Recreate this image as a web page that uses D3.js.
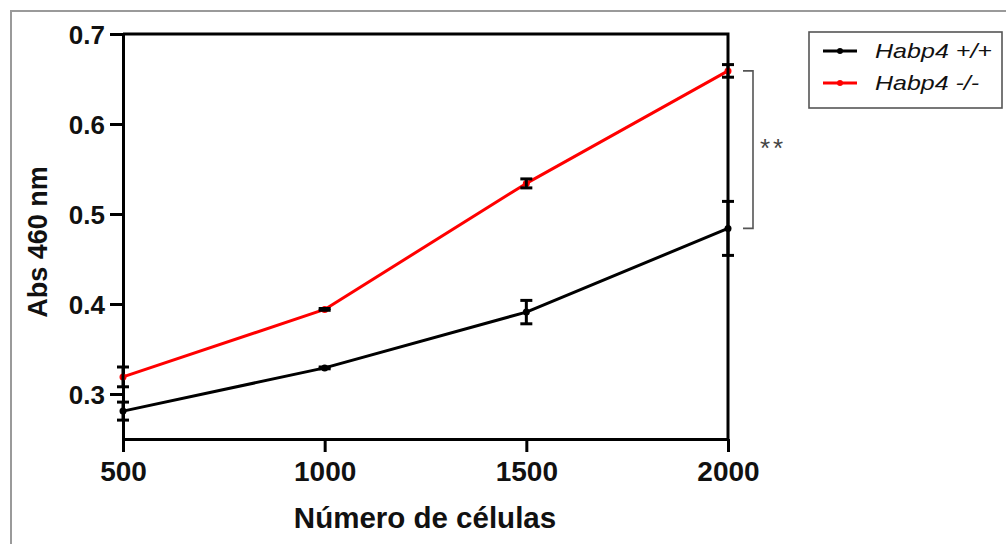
<!DOCTYPE html>
<html>
<head>
<meta charset="utf-8">
<script src="https://cdn.jsdelivr.net/npm/d3@7"></script>
<style>
  body { margin: 0; background: #fff; }
  svg { display: block; font-family: "Liberation Sans", Arial, sans-serif; }
</style>
</head>
<body>
<svg id="chart" width="1006" height="544"></svg>
<script>
"use strict";

// Values
var cells = [500, 1000, 1500, 2000];
var wildMean = [0.281, 0.329, 0.391, 0.484];
var wildErr = [0.010, 0.001, 0.013, 0.030];
var koMean = [0.319, 0.394, 0.534, 0.659];
var koErr = [0.011, 0.001, 0.005, 0.007];
var yTicks = [0.3, 0.4, 0.5, 0.6, 0.7];
var seriesNames = ["Habp4 +/+", "Habp4 -/-"];
var seriesColors = ["#000000", "#ff0000"];

var svg = d3.select("#chart");

// outer grey frame of the original figure
svg.append("path")
    .attr("d", "M11,544V11H1006")
    .attr("fill", "none")
    .attr("stroke", "#9a9a9a")
    .attr("stroke-width", 2);

var x = d3.scaleLinear().domain([500, 2000]).range([123, 728]);
var y = d3.scaleLinear().domain([0.25, 0.7]).range([439, 34]);

function makeSeries(means, errs) {
  return cells.map(function(c, i) {
    return {x: c, y: means[i], e: errs[i]};
  });
}
var series = [makeSeries(wildMean, wildErr), makeSeries(koMean, koErr)];

// top and right frame lines
svg.append("path")
    .attr("d", "M" + x(500) + "," + y(0.7) + "H" + x(2000) + "V" + y(0.25))
    .attr("fill", "none")
    .attr("stroke", "#000")
    .attr("stroke-width", 3);

var yAxis = svg.append("g")
    .attr("transform", "translate(" + x(500) + ",0)")
    .call(d3.axisLeft(y).tickValues(yTicks).tickSize(13).tickSizeOuter(0)
      .tickFormat(d3.format(".1f")));

var xAxis = svg.append("g")
    .attr("transform", "translate(0," + y(0.25) + ")")
    .call(d3.axisBottom(x).tickValues(cells).tickSize(13).tickSizeOuter(0)
      .tickFormat(d3.format("d")));

[yAxis, xAxis].forEach(function(a) {
  a.selectAll("path, line").attr("stroke", "#000").attr("stroke-width", 3);
  a.selectAll("text")
      .attr("fill", "#111")
      .style("font-weight", "bold")
      .style("font-family", "'Liberation Sans', Arial, sans-serif");
});
yAxis.selectAll("text").style("font-size", "26px").attr("x", -18).attr("dy", "0.36em");
xAxis.selectAll("text").style("font-size", "28px").attr("y", 22).attr("dy", "0.71em");

// axis titles
svg.append("text")
    .attr("transform", "translate(47,242) rotate(-90)")
    .attr("text-anchor", "middle")
    .style("font-size", "27px")
    .style("font-weight", "bold")
    .attr("fill", "#111")
    .text("Abs 460 nm");

svg.append("text")
    .attr("x", 425)
    .attr("y", 528)
    .attr("text-anchor", "middle")
    .style("font-size", "29.5px")
    .style("font-weight", "bold")
    .attr("fill", "#111")
    .text("Número de células");

var line = d3.line()
    .x(function(d) { return x(d.x); })
    .y(function(d) { return y(d.y); });

series.forEach(function(s, i) {
  svg.append("path")
      .datum(s)
      .attr("fill", "none")
      .attr("stroke", seriesColors[i])
      .attr("stroke-width", 3)
      .attr("stroke-linejoin", "round")
      .attr("d", line);

  svg.selectAll(".pt" + i)
      .data(s)
    .enter().append("circle")
      .attr("class", "pt" + i)
      .attr("cx", function(d) { return x(d.x); })
      .attr("cy", function(d) { return y(d.y); })
      .attr("r", 3.5)
      .attr("fill", seriesColors[i]);
});

// error bars (drawn in black for both groups)
series.forEach(function(s) {
  var eb = svg.selectAll(null)
      .data(s)
    .enter().append("g")
      .attr("stroke", "#000")
      .attr("stroke-width", 3);
  eb.append("line")
      .attr("x1", function(d) { return x(d.x); })
      .attr("x2", function(d) { return x(d.x); })
      .attr("y1", function(d) { return y(d.y + d.e); })
      .attr("y2", function(d) { return y(d.y - d.e); });
  [1, -1].forEach(function(sign) {
    eb.append("line")
        .attr("x1", function(d) { return x(d.x) - 6; })
        .attr("x2", function(d) { return x(d.x) + 6; })
        .attr("y1", function(d) { return y(d.y + sign * d.e); })
        .attr("y2", function(d) { return y(d.y + sign * d.e); });
  });
});

// significance bracket at 2000 cells
var bx = x(2000) + 15;
svg.append("path")
    .attr("d", "M" + bx + "," + y(koMean[3]) + "H" + (bx + 10) + "V" + y(wildMean[3]) + "H" + bx)
    .attr("fill", "none")
    .attr("stroke", "#555")
    .attr("stroke-width", 1.6);
svg.append("text")
    .attr("x", bx + 30)
    .attr("y", (y(koMean[3]) + y(wildMean[3])) / 2 + 7)
    .attr("text-anchor", "middle")
    .style("font-size", "26px")
    .style("letter-spacing", "3px")
    .attr("fill", "#444")
    .text("**");

// legend
var legend = svg.append("g").attr("transform", "translate(809,32)");
legend.append("rect")
    .attr("width", 193)
    .attr("height", 76)
    .attr("fill", "#fff")
    .attr("stroke", "#555")
    .attr("stroke-width", 1.6);

var items = legend.selectAll(".item")
    .data(seriesNames)
  .enter().append("g")
    .attr("class", "item")
    .attr("transform", function(d, i) { return "translate(0," + (19 + i * 32) + ")"; });
items.append("line")
    .attr("x1", 14)
    .attr("x2", 48)
    .attr("stroke", function(d, i) { return seriesColors[i]; })
    .attr("stroke-width", 3);
items.append("circle")
    .attr("cx", 31)
    .attr("r", 3)
    .attr("fill", function(d, i) { return seriesColors[i]; });
items.append("text")
    .attr("x", 66)
    .attr("y", 7)
    .style("font-size", "21px")
    .style("font-style", "italic")
    .attr("fill", "#111")
    .attr("textLength", function(d, i) { return i === 0 ? 117 : 104; })
    .attr("lengthAdjust", "spacingAndGlyphs")
    .text(function(d) { return d; });
</script>
</body>
</html>
